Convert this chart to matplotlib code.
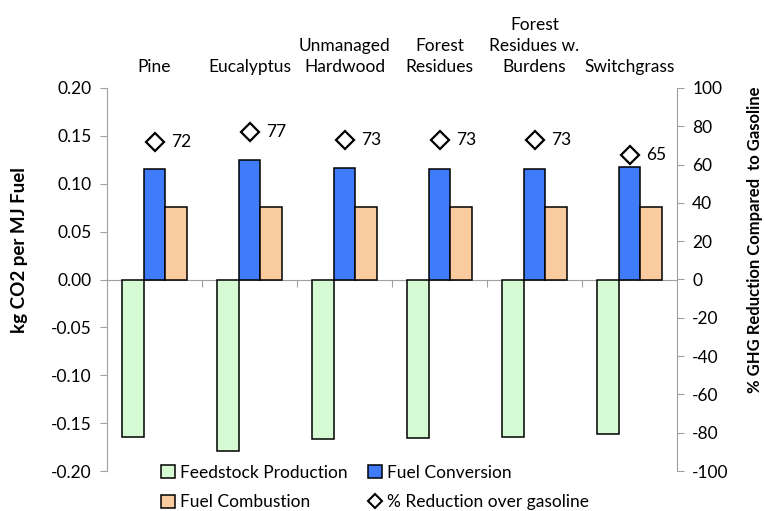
import matplotlib
matplotlib.use("Agg")
import matplotlib.pyplot as plt
from matplotlib.patches import Patch
from matplotlib.lines import Line2D
import numpy as np

plt.rcParams['font.family'] = ['Lato', 'DejaVu Sans']

categories = ["Pine", "Eucalyptus", "Unmanaged\nHardwood", "Forest\nResidues",
              "Forest\nResidues w.\nBurdens", "Switchgrass"]
feedstock = [-0.164, -0.179, -0.167, -0.166, -0.165, -0.161]
conversion = [0.115, 0.125, 0.116, 0.115, 0.115, 0.118]
combustion = [0.076, 0.076, 0.076, 0.076, 0.076, 0.076]
reduction = [72, 77, 73, 73, 73, 65]
left_ticks = [-0.20, -0.15, -0.10, -0.05, 0.00, 0.05, 0.10, 0.15, 0.20]
left_labels = ["-0.20", "-0.15", "-0.10", "-0.05", "0.00", "0.05", "0.10", "0.15", "0.20"]
right_ticks = [-100, -80, -60, -40, -20, 0, 20, 40, 60, 80, 100]

c_green = "#d5fad4"
c_blue = "#3f7cfb"
c_peach = "#fbcba0"
gray = "#a0a0a0"

fig = plt.figure(figsize=(7.65, 5.11), dpi=100)
ax = fig.add_axes([107/765, 1-471/511, 570/765, 383/511])
ax2 = ax.twinx()

x = np.arange(len(categories))
w = 0.225
ax.bar(x - w, feedstock, w, color=c_green, edgecolor="black", linewidth=1.1, zorder=3)
ax.bar(x, conversion, w, color=c_blue, edgecolor="black", linewidth=1.1, zorder=3)
ax.bar(x + w, combustion, w, color=c_peach, edgecolor="black", linewidth=1.1, zorder=3)

ax.set_xlim(-0.5, len(categories) - 0.5)
ax.set_ylim(-0.2, 0.2)
ax.set_yticks(left_ticks)
ax.set_yticklabels(left_labels, fontsize=12.5)

for s in ["top", "right"]:
    ax.spines[s].set_visible(False)
ax.spines["left"].set_color(gray)
ax.spines["bottom"].set_position(("data", 0))
ax.spines["bottom"].set_color(gray)
ax.set_xticks(np.arange(0.5, len(categories) - 0.5, 1.0))
ax.set_xticklabels([])
ax.tick_params(axis="x", direction="out", length=5, color=gray)
ax.tick_params(axis="y", direction="out", length=5, color=gray, pad=6)

ax2.set_ylim(-100, 100)
ax2.set_yticks(right_ticks)
ax2.set_yticklabels([str(v) for v in right_ticks], fontsize=12.5)
ax2.tick_params(axis="y", direction="out", length=5, color=gray, pad=6)
for s in ["top", "left", "bottom"]:
    ax2.spines[s].set_visible(False)
ax2.spines["right"].set_color(gray)

fig.text(20/765, 1-250/511, "kg CO2 per MJ Fuel", rotation=90, fontsize=13.5,
         fontweight="bold", ha="center", va="center")
fig.text(755/765, 1-240/511, "% GHG Reduction Compared  to Gasoline", rotation=90,
         fontsize=12, fontweight="bold", ha="center", va="center")

ax2.plot(x, reduction, linestyle="none", marker="D", markersize=9,
         markerfacecolor="white", markeredgecolor="black", markeredgewidth=1.6, zorder=4)
for xi, r in zip(x, reduction):
    ax2.annotate(str(r), (xi, r), xytext=(12, 0), textcoords="offset points",
                 fontsize=12.5, va="center", ha="left")

for xi, c in zip(x, categories):
    ax.text(xi, 1.035, c, transform=ax.get_xaxis_transform(), ha="center",
            va="bottom", fontsize=12.5, linespacing=1.35)

handles = [Patch(facecolor=c_green, edgecolor="black", linewidth=1.1),
           Patch(facecolor=c_peach, edgecolor="black", linewidth=1.1),
           Patch(facecolor=c_blue, edgecolor="black", linewidth=1.1),
           Line2D([], [], linestyle="none", marker="D", markersize=7,
                  markerfacecolor="white", markeredgecolor="black", markeredgewidth=1.5)]
labels = ["Feedstock Production", "Fuel Combustion", "Fuel Conversion",
          "% Reduction over gasoline"]
fig.legend(handles, labels, ncol=2, loc="lower left", bbox_to_anchor=(145/765, -0.029),
           frameon=False, fontsize=12.5, handlelength=0.8, handleheight=0.8,
           handletextpad=0.3, columnspacing=1.2, labelspacing=0.78)

fig.savefig("out.png", dpi=100)
